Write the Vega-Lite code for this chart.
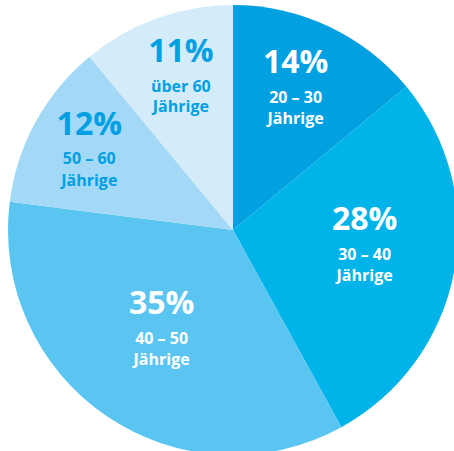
{
  "$schema": "https://vega.github.io/schema/vega-lite/v6.json",
  "width": 442,
  "height": 442,
  "autosize": {"type": "none"},
  "padding": {"left": 12, "top": 9, "right": 0, "bottom": 0},
  "background": "white",
  "view": {"stroke": null},
  "data": {
    "values": [
      {"label": "20 – 30", "share": 0.14},
      {"label": "30 – 40", "share": 0.28},
      {"label": "40 – 50", "share": 0.35},
      {"label": "50 – 60", "share": 0.12},
      {"label": "über 60", "share": 0.11}
    ]
  },
  "encoding": {
    "theta": {"field": "share", "type": "quantitative", "stack": true},
    "order": {"field": "label", "type": "nominal", "sort": "ascending"}
  },
  "layer": [
    {
      "mark": {"type": "arc", "outerRadius": 225},
      "encoding": {
        "color": {
          "field": "label",
          "type": "nominal",
          "legend": null,
          "scale": {
            "domain": ["20 – 30", "30 – 40", "40 – 50", "50 – 60", "über 60"],
            "range": ["#00a0e1", "#00b4ea", "#5bc5f1", "#a3d9f6", "#d4ecfa"]
          }
        }
      }
    },
    {
      "encoding": {
        "color": {
          "condition": {"test": "datum.share < 0.13", "value": "#009fe3"},
          "value": "white"
        }
      },
      "layer": [
        {"mark": {"type": "text", "font": "Open Sans", "fontWeight": "bold", "fontSize": 32, "baseline": "middle", "dy": -34, "radius": 147},
         "encoding": {"text": {"condition": {"test": "datum.share == 0.14", "field": "share", "type": "quantitative", "format": ".0%"}, "value": ""}}},
        {"mark": {"type": "text", "font": "Open Sans", "fontWeight": "bold", "fontSize": 16, "baseline": "middle", "dy": 1, "radius": 147},
         "encoding": {"text": {"condition": {"test": "datum.share == 0.14", "field": "label", "type": "nominal"}, "value": ""}}},
        {"mark": {"type": "text", "font": "Open Sans", "fontWeight": "bold", "fontSize": 16, "baseline": "middle", "dy": 22, "radius": 147},
         "encoding": {"text": {"condition": {"test": "datum.share == 0.14", "value": "Jährige"}, "value": ""}}},

        {"mark": {"type": "text", "font": "Open Sans", "fontWeight": "bold", "fontSize": 32, "baseline": "middle", "dy": -35, "radius": 134},
         "encoding": {"text": {"condition": {"test": "datum.share == 0.28", "field": "share", "type": "quantitative", "format": ".0%"}, "value": ""}}},
        {"mark": {"type": "text", "font": "Open Sans", "fontWeight": "bold", "fontSize": 16, "baseline": "middle", "dy": 0, "radius": 134},
         "encoding": {"text": {"condition": {"test": "datum.share == 0.28", "field": "label", "type": "nominal"}, "value": ""}}},
        {"mark": {"type": "text", "font": "Open Sans", "fontWeight": "bold", "fontSize": 16, "baseline": "middle", "dy": 21, "radius": 134},
         "encoding": {"text": {"condition": {"test": "datum.share == 0.28", "value": "Jährige"}, "value": ""}}},

        {"mark": {"type": "text", "font": "Open Sans", "fontWeight": "bold", "fontSize": 32, "baseline": "middle", "dy": -31, "radius": 127},
         "encoding": {"text": {"condition": {"test": "datum.share == 0.35", "field": "share", "type": "quantitative", "format": ".0%"}, "value": ""}}},
        {"mark": {"type": "text", "font": "Open Sans", "fontWeight": "bold", "fontSize": 16, "baseline": "middle", "dy": 4, "radius": 127},
         "encoding": {"text": {"condition": {"test": "datum.share == 0.35", "field": "label", "type": "nominal"}, "value": ""}}},
        {"mark": {"type": "text", "font": "Open Sans", "fontWeight": "bold", "fontSize": 16, "baseline": "middle", "dy": 25, "radius": 127},
         "encoding": {"text": {"condition": {"test": "datum.share == 0.35", "value": "Jährige"}, "value": ""}}},

        {"mark": {"type": "text", "font": "Open Sans", "fontWeight": "bold", "fontSize": 32, "baseline": "middle", "dy": -26, "radius": 164},
         "encoding": {"text": {"condition": {"test": "datum.share == 0.12", "field": "share", "type": "quantitative", "format": ".0%"}, "value": ""}}},
        {"mark": {"type": "text", "font": "Open Sans", "fontWeight": "bold", "fontSize": 16, "baseline": "middle", "dy": 8, "radius": 164},
         "encoding": {"text": {"condition": {"test": "datum.share == 0.12", "field": "label", "type": "nominal"}, "value": ""}}},
        {"mark": {"type": "text", "font": "Open Sans", "fontWeight": "bold", "fontSize": 16, "baseline": "middle", "dy": 30, "radius": 164},
         "encoding": {"text": {"condition": {"test": "datum.share == 0.12", "value": "Jährige"}, "value": ""}}},

        {"mark": {"type": "text", "font": "Open Sans", "fontWeight": "bold", "fontSize": 32, "baseline": "middle", "dy": -33, "radius": 154},
         "encoding": {"text": {"condition": {"test": "datum.share == 0.11", "field": "share", "type": "quantitative", "format": ".0%"}, "value": ""}}},
        {"mark": {"type": "text", "font": "Open Sans", "fontWeight": "bold", "fontSize": 16, "baseline": "middle", "dy": 2, "radius": 154},
         "encoding": {"text": {"condition": {"test": "datum.share == 0.11", "field": "label", "type": "nominal"}, "value": ""}}},
        {"mark": {"type": "text", "font": "Open Sans", "fontWeight": "bold", "fontSize": 16, "baseline": "middle", "dy": 22, "radius": 154},
         "encoding": {"text": {"condition": {"test": "datum.share == 0.11", "value": "Jährige"}, "value": ""}}}
      ]
    }
  ]
}
